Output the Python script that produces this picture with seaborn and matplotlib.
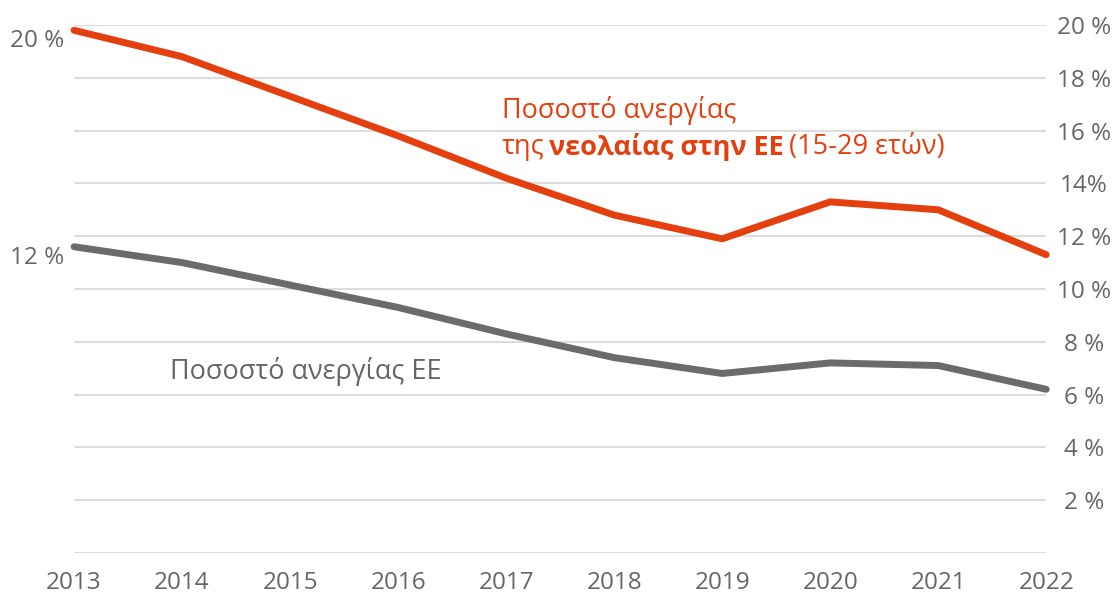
import numpy as np
import pandas as pd
import seaborn as sns
import matplotlib.pyplot as plt

years = [2013, 2014, 2015, 2016, 2017, 2018, 2019, 2020, 2021, 2022]
youth_rate = [19.8, 18.8, 17.3, 15.8, 14.2, 12.8, 11.9, 13.3, 13.0, 11.3]
total_rate = [11.6, 11.0, 10.15, 9.3, 8.3, 7.4, 6.8, 7.2, 7.1, 6.2]
y_ticks = [0, 2, 4, 6, 8, 10, 12, 14, 16, 18, 20]
y_tick_labels = ["", "2 %", "4 %", "6 %", "8 %", "10 %", "12 %", "14%", "16 %", "18 %", "20 %"]

RED = "#E4400F"
GREY = "#6B6B6B"
TXT = "#666666"

sns.set_theme(style="white")
plt.rcParams['font.family'] = ['Open Sans', 'DejaVu Sans']

df = pd.DataFrame({"year": years, "youth": youth_rate, "total": total_rate})

fig = plt.figure(figsize=(11.13, 5.98), dpi=100)
ax = fig.add_axes([0.0665, 0.0753, 0.8735, 0.8829])

sns.lineplot(data=df, x="year", y="total", ax=ax, color=GREY, linewidth=5, clip_on=False)
sns.lineplot(data=df, x="year", y="youth", ax=ax, color=RED, linewidth=5, clip_on=False)

ax.set_xlim(years[0], years[-1])
ax.set_ylim(0, 20)
ax.set_yticks(y_ticks)
ax.set_yticklabels(y_tick_labels)
ax.set_xticks(years)
ax.set_xticklabels([str(y) for y in years])
ax.yaxis.tick_right()
ax.grid(axis="y", color="#DDDDDD", linewidth=1.5)
ax.set_axisbelow(True)
for s in ax.spines.values():
    s.set_visible(False)
ax.tick_params(axis="y", length=0, pad=27, labelsize=17.5, labelcolor=TXT)
ax.tick_params(axis="x", length=0, pad=13, labelsize=17.5, labelcolor=TXT)
for lab in ax.get_yticklabels():
    lab.set_horizontalalignment("center")
ax.set_xlabel("")
ax.set_ylabel("")

# start-value labels on the left
ax.annotate("20 %", xy=(years[0], youth_rate[0]), xytext=(-7, -8), textcoords="offset points",
            ha="right", va="center", fontsize=17.5, color=TXT, annotation_clip=False)
ax.annotate("12 %", xy=(years[0], total_rate[0]), xytext=(-7, -8), textcoords="offset points",
            ha="right", va="center", fontsize=17.5, color=TXT, annotation_clip=False)

# series labels
FS = 19.5
ax.text(2013.89, 6.6, "Ποσοστό ανεργίας ΕΕ", fontsize=FS, color=TXT, va="baseline", ha="left")
ax.text(2016.96, 16.48, "Ποσοστό ανεργίας", fontsize=FS, color=RED, va="baseline", ha="left")
t1 = ax.text(2016.96, 15.11, "της", fontsize=FS, color=RED, va="baseline", ha="left")
t2 = ax.annotate("νεολαίας στην ΕΕ", xy=(1, 0), xycoords=t1, xytext=(3.5, 0), textcoords="offset points",
                 fontsize=FS, color=RED, fontweight="bold", va="bottom", ha="left")
ax.annotate("(15-29 ετών)", xy=(1, 0), xycoords=t2, xytext=(3.5, 0), textcoords="offset points",
            fontsize=FS, color=RED, va="bottom", ha="left")

fig.savefig("out.png", dpi=100)
